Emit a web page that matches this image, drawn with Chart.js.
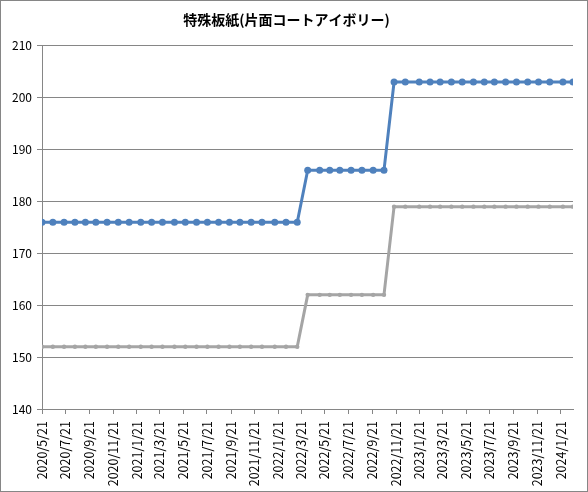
<!DOCTYPE html>
<html lang="ja">
<head>
<meta charset="utf-8">
<title>特殊板紙(片面コートアイボリー)</title>
<script src="https://cdn.jsdelivr.net/npm/chart.js@4.4.1/dist/chart.umd.min.js"></script>
<style>
  html, body { margin: 0; padding: 0; background: #fff; }
</style>
</head>
<body>
<canvas id="my-chart" width="588" height="492"></canvas>
<script>
"use strict";

const chartTitle = "特殊板紙(片面コートアイボリー)";

// survey dates (one point each)
const dates = [
  "2020/5/21", "2020/6/18", "2020/7/17", "2020/8/14", "2020/9/10", "2020/10/7",
  "2020/11/5", "2020/12/4", "2021/1/1", "2021/1/31", "2021/2/28", "2021/3/28",
  "2021/4/28", "2021/5/26", "2021/6/24", "2021/7/22", "2021/8/20", "2021/9/17",
  "2021/10/14", "2021/11/12", "2021/12/10", "2022/1/12", "2022/2/10", "2022/3/11",
  "2022/4/7", "2022/5/8", "2022/6/3", "2022/6/29", "2022/7/28", "2022/8/25",
  "2022/9/23", "2022/10/21",
  "2022/11/16", "2022/12/15", "2023/1/20", "2023/2/17", "2023/3/15", "2023/4/13",
  "2023/5/11", "2023/6/9", "2023/7/7", "2023/8/2", "2023/8/31", "2023/9/28",
  "2023/10/27", "2023/11/24", "2023/12/23", "2024/1/26", "2024/2/21"
];

const upperPrice = [
  176, 176, 176, 176, 176, 176, 176, 176, 176, 176, 176, 176,
  176, 176, 176, 176, 176, 176, 176, 176, 176, 176, 176, 176,
  186, 186, 186, 186, 186, 186, 186, 186,
  203, 203, 203, 203, 203, 203, 203, 203, 203, 203, 203, 203,
  203, 203, 203, 203, 203
];

const lowerPrice = [
  152, 152, 152, 152, 152, 152, 152, 152, 152, 152, 152, 152,
  152, 152, 152, 152, 152, 152, 152, 152, 152, 152, 152, 152,
  162, 162, 162, 162, 162, 162, 162, 162,
  179, 179, 179, 179, 179, 179, 179, 179, 179, 179, 179, 179,
  179, 179, 179, 179, 179
];

// x axis labels, every 2 months
const xTickLabels = [
  "2020/5/21", "2020/7/21", "2020/9/21", "2020/11/21", "2021/1/21", "2021/3/21",
  "2021/5/21", "2021/7/21", "2021/9/21", "2021/11/21", "2022/1/21", "2022/3/21",
  "2022/5/21", "2022/7/21", "2022/9/21", "2022/11/21", "2023/1/21", "2023/3/21",
  "2023/5/21", "2023/7/21", "2023/9/21", "2023/11/21", "2024/1/21"
];

const yMin = 140;
const yMax = 210;
const yStep = 10;

const font = "'Noto Sans CJK JP', 'Noto Sans', sans-serif";
const axisGray = "#868686";

// turn "yyyy/m/d" into a day number
function toDay(text) {
  const parts = text.split("/").map(Number);
  return Date.UTC(parts[0], parts[1] - 1, parts[2]) / 86400000;
}

function toPoints(values) {
  const points = [];
  for (let i = 0; i < dates.length; i++) {
    points.push({ x: toDay(dates[i]), y: values[i] });
  }
  return points;
}

const tickDays = xTickLabels.map(toDay);

// white background and the thin frame round the whole chart
const framePlugin = {
  id: "frame",
  beforeDraw(chart) {
    const ctx = chart.ctx;
    ctx.save();
    ctx.fillStyle = "#fff";
    ctx.fillRect(0, 0, chart.width, chart.height);
    ctx.restore();
  },
  afterDraw(chart) {
    const ctx = chart.ctx;
    ctx.save();
    ctx.strokeStyle = axisGray;
    ctx.lineWidth = 1;
    ctx.strokeRect(0.5, 0.5, chart.width - 1, chart.height - 1);
    ctx.restore();
  }
};

const ctx = document.getElementById("my-chart");

const myChart = new Chart(ctx, {
  type: "line",
  data: {
    datasets: [
      {
        label: "upper",
        data: toPoints(upperPrice),
        borderColor: "#4F81BD",
        backgroundColor: "#4F81BD",
        borderWidth: 3,
        pointRadius: 3.5,
        pointBorderWidth: 0,
        tension: 0,
        order: 1
      },
      {
        label: "lower",
        data: toPoints(lowerPrice),
        borderColor: "#A5A5A5",
        backgroundColor: "#A5A5A5",
        borderWidth: 3,
        pointRadius: 2.2,
        pointBorderWidth: 0,
        tension: 0,
        order: 2
      }
    ]
  },
  options: {
    responsive: false,
    animation: false,
    events: [],
    layout: { padding: { top: 0, right: 15, bottom: 0, left: 0 } },
    plugins: {
      legend: { display: false },
      tooltip: { enabled: false },
      title: {
        display: true,
        text: chartTitle,
        color: "#000",
        font: { family: font, size: 14, weight: "bold" },
        padding: { top: 11, bottom: 18 }
      }
    },
    scales: {
      x: {
        type: "linear",
        min: toDay(dates[0]),
        max: toDay(dates[dates.length - 1]),
        afterBuildTicks(scale) {
          scale.ticks = tickDays.map(v => ({ value: v }));
        },
        afterFit(scale) {
          scale.height = 83;
        },
        ticks: {
          autoSkip: false,
          minRotation: 90,
          maxRotation: 90,
          padding: 7,
          color: "#000",
          font: { family: font, size: 12.5 },
          callback(value) {
            const i = tickDays.indexOf(value);
            return i >= 0 ? xTickLabels[i] : "";
          }
        },
        grid: {
          drawOnChartArea: false,
          drawTicks: true,
          tickLength: 5,
          color: axisGray
        },
        border: { color: axisGray, width: 1 }
      },
      y: {
        min: yMin,
        max: yMax,
        afterFit(scale) {
          scale.width = 42;
        },
        ticks: {
          stepSize: yStep,
          padding: 5,
          color: "#000",
          font: { family: font, size: 12 }
        },
        grid: {
          color: axisGray,
          tickLength: 5
        },
        border: { color: axisGray, width: 1 }
      }
    }
  },
  plugins: [framePlugin]
});
</script>
</body>
</html>
